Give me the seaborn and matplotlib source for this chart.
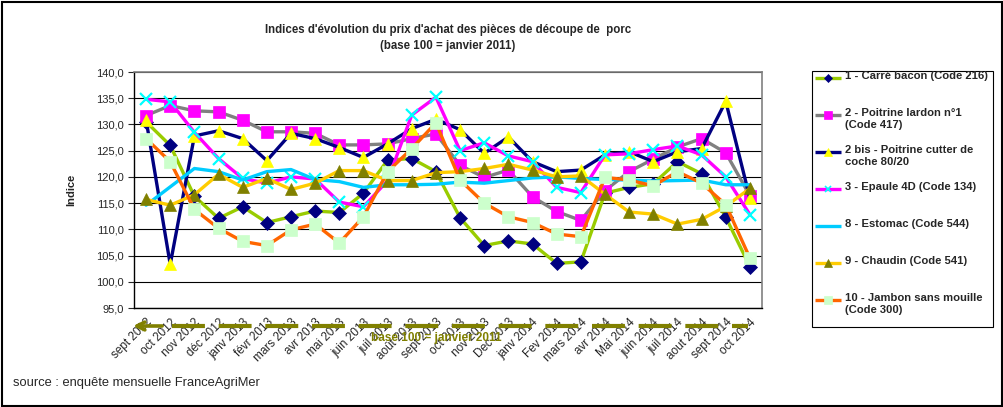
import pandas as pd
import matplotlib
matplotlib.use("Agg")
import matplotlib.pyplot as plt
import seaborn as sns
from matplotlib.lines import Line2D
from matplotlib.patches import Rectangle
from matplotlib.ticker import FuncFormatter, MultipleLocator

# Data
months = ["sept 2012", "oct 2012", "nov 2012", "déc 2012", "janv 2013", "févr 2013",
          "mars 2013", "avr 2013", "mai 2013", "juin 2013", "juil 2013", "août 2013",
          "sept 2013", "oct 2013", "nov 2013", "Dec 2013", "janv 2014", "Fev 2014",
          "mars 2014", "avr 2014", "Mai 2014", "juin 2014", "juil 2014", "aout 2014",
          "sept 2014", "oct 2014"]

carre_bacon = [130.5, 126.0, 116.3, 112.1, 114.3, 111.3, 112.4, 113.5, 113.2, 116.9,
               123.2, 123.5, 121.0, 112.2, 106.9, 107.8, 107.2, 103.5, 103.8, 116.9,
               118.0, 118.7, 122.9, 120.6, 112.3, 102.9]
poitrine_lardon = [131.7, 133.6, 132.6, 132.4, 130.8, 128.6, 128.6, 128.3, 126.1, 126.1,
                   126.3, 127.3, 128.2, 122.2, 119.9, 121.3, 116.2, 113.4, 111.7, 117.4,
                   121.0, 123.4, 125.7, 127.3, 124.6, 116.4]
poitrine_cutter = [130.9, 103.3, 127.8, 128.8, 127.3, 123.1, 128.3, 127.3, 125.6, 123.7,
                   126.3, 129.2, 131.0, 129.0, 124.5, 127.6, 122.9, 121.0, 121.3, 124.2,
                   124.8, 122.9, 124.8, 125.4, 134.4, 115.9]
epaule_4d = [134.8, 134.3, 128.5, 123.5, 119.7, 118.8, 120.0, 119.6, 115.2, 114.3,
             119.3, 131.8, 135.2, 125.0, 126.5, 124.0, 122.9, 118.0, 117.0, 124.2,
             124.4, 125.2, 125.9, 124.2, 120.0, 112.8]
estomac = [114.6, 118.1, 121.6, 121.0, 119.4, 121.0, 121.4, 119.5, 119.1, 118.0,
           118.5, 118.5, 118.6, 119.0, 118.8, 119.3, 119.8, 120.0, 119.7, 119.5,
           119.4, 119.2, 119.3, 119.4, 118.5, 118.5]
chaudin = [115.7, 114.6, 116.6, 120.5, 118.0, 119.7, 117.6, 118.8, 121.2, 121.2,
           119.3, 119.3, 120.8, 121.0, 121.6, 122.4, 121.3, 120.0, 120.2, 116.7,
           113.3, 112.9, 111.0, 111.9, 114.4, 117.8]
jambon = [127.3, 122.9, 113.8, 110.2, 107.7, 106.9, 109.9, 111.0, 107.4, 112.4,
          121.0, 125.4, 130.3, 119.4, 115.0, 112.4, 111.3, 109.1, 108.6, 119.9,
          119.4, 118.3, 121.0, 118.8, 114.7, 104.5]

labels = ["1 - Carré bacon (Code 216)",
          "2 - Poitrine lardon n°1\n(Code 417)",
          "2 bis - Poitrine cutter de\ncoche 80/20",
          "3 - Epaule 4D (Code 134)",
          "8 - Estomac (Code 544)",
          "9 - Chaudin (Code 541)",
          "10 - Jambon sans mouille\n(Code 300)"]
values = [carre_bacon, poitrine_lardon, poitrine_cutter, epaule_4d, estomac, chaudin, jambon]

# line colour, marker, marker colour, marker size
styles = [("#99CC00", "D", "#000080", 7.5),
          ("#808080", "s", "#FF00FF", 9),
          ("#000080", "^", "#FFFF00", 9),
          ("#FF00FF", "x", "#00FFFF", 8),
          ("#00CCFF", None, "#00CCFF", 0),
          ("#FFCC00", "^", "#808000", 9),
          ("#FF6600", "s", "#CCFFCC", 9)]

sns.set_style("white")
plt.rcParams["font.family"] = ["Liberation Sans", "DejaVu Sans"]

W, H = 1004, 407
fig = plt.figure(figsize=(W / 100, H / 100), dpi=100)
ax = fig.add_axes([134 / W, 1 - 308 / H, (762 - 134) / W, (308 - 72) / H])

for i, (lab, vals) in enumerate(zip(labels, values)):
    lc, mk, mc, ms = styles[i]
    df = pd.DataFrame({"mois": months, "indice": vals})
    sns.lineplot(data=df, x="mois", y="indice", ax=ax, color=lc, lw=2.4,
                 marker=mk, ms=ms, markerfacecolor=mc, markeredgecolor=mc,
                 mew=1.6 if mk == "x" else 0.5, zorder=3 + i, sort=False)

# axes styling
ax.set_ylim(95, 140)
ax.set_xlim(-0.5, len(months) - 0.5)
ax.yaxis.set_major_locator(MultipleLocator(5))
ax.yaxis.set_major_formatter(FuncFormatter(lambda v, p: f"{v:.1f}".replace(".", ",")))
ax.grid(axis="y", color="black", lw=0.8)
ax.set_axisbelow(True)
for s in ["top", "right"]:
    ax.spines[s].set_color("#808080")
    ax.spines[s].set_linewidth(1.2)
for s in ["left", "bottom"]:
    ax.spines[s].set_color("black")
    ax.spines[s].set_linewidth(1.0)
ax.set_xticks(range(len(months)))
ax.set_xticklabels(months, rotation=45, ha="right", rotation_mode="anchor", fontsize=8.5)
ax.set_xticks([k - 0.5 for k in range(len(months) + 1)], minor=True)
ax.tick_params(axis="x", which="major", length=0, pad=6)
ax.tick_params(axis="x", which="minor", length=4, width=0.8, color="black", direction="out")
ax.tick_params(axis="y", length=4, width=0.8, direction="out", labelsize=8, left=True)
ax.set_xlabel("")
ax.set_ylabel("Indice", fontsize=8, fontweight="bold", labelpad=14)

# title
fig.text(448 / W, 1 - 30 / H, "Indices d'évolution du prix d'achat des pièces de découpe de  porc",
         ha="center", va="center", fontsize=8.3, fontweight="bold")
fig.text(448 / W, 1 - 46 / H, "(base 100 = janvier 2011)",
         ha="center", va="center", fontsize=8.3, fontweight="bold")

# legend drawn by hand so multi-line entries sit like the original
fig.add_artist(Rectangle((812 / W, 1 - 327 / H), (993 - 812) / W, (327 - 71) / H,
                         transform=fig.transFigure, fill=False, ec="black", lw=0.8))
for i, lab in enumerate(labels):
    lc, mk, mc, ms = styles[i]
    y = 1 - (78 + 37 * i) / H
    fig.add_artist(Line2D([815 / W, 841 / W], [y, y], transform=fig.transFigure,
                          color=lc, lw=2.4, solid_capstyle="butt"))
    if mk:
        fig.add_artist(Line2D([828 / W], [y], transform=fig.transFigure, marker=mk,
                              ms=ms * 0.6, markerfacecolor=mc, markeredgecolor=mc,
                              mew=1.2 if mk == "x" else 0.5, lw=0))
    fig.text(845 / W, y + 7 / H, lab, ha="left", va="top", fontsize=8.1,
             fontweight="bold", linespacing=1.3)

# base 100 dashed arrow under the axis
olive = "#808000"
yb = 1 - 326 / H
fig.add_artist(Line2D([172 / W, 748 / W], [yb, yb], transform=fig.transFigure,
                      color=olive, lw=3, dashes=(7.9, 3.3), zorder=0.5))
ax.annotate("", xy=(133 / W, yb), xytext=(162 / W, yb), xycoords="figure fraction",
            arrowprops=dict(arrowstyle="->", color=olive, lw=2.6, mutation_scale=14,
                            shrinkA=0, shrinkB=0))
fig.text(436 / W, 1 - 338 / H, "base 100 = janvier 2011", ha="center", va="center",
         fontsize=8.5, fontweight="bold", color=olive)

# source and outer frame
fig.text(13 / W, 1 - 383 / H, "source : enquête mensuelle FranceAgriMer",
         ha="left", va="center", fontsize=9.3)
fig.add_artist(Rectangle((2 / W, 1 / H), (W - 4) / W, (H - 3) / H,
                         transform=fig.transFigure, fill=False, ec="black", lw=1.5))

fig.savefig("out.png", dpi=100)
